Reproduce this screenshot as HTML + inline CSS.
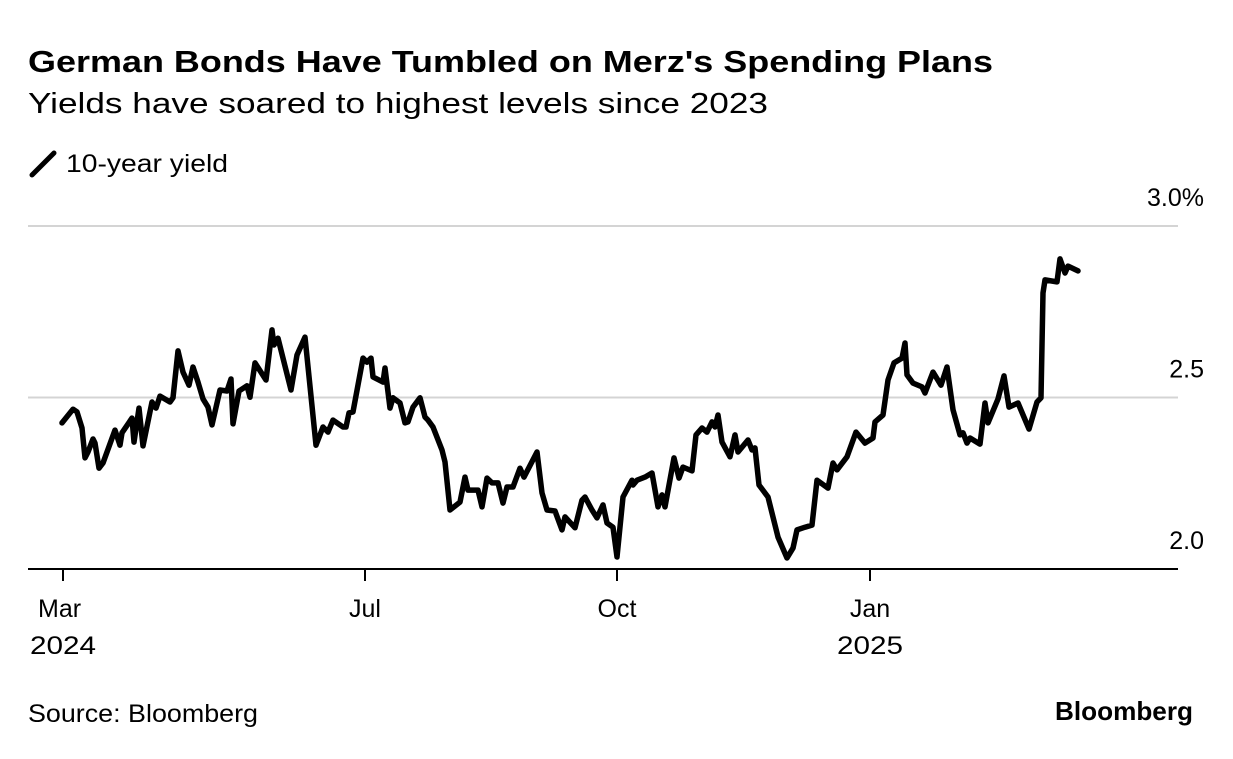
<!DOCTYPE html>
<html><head><meta charset="utf-8">
<style>
body{margin:0;background:#fff;font-family:"Liberation Sans",Arial,sans-serif;color:#000}
svg text{font-family:"Liberation Sans",Arial,sans-serif}
</style></head>
<body>
<svg width="1233" height="754" viewBox="0 0 1233 754">
<text x="28" y="72" font-size="31" font-weight="bold" textLength="965" lengthAdjust="spacingAndGlyphs">German Bonds Have Tumbled on Merz's Spending Plans</text>
<text x="28" y="113" font-size="29" textLength="740" lengthAdjust="spacingAndGlyphs">Yields have soared to highest levels since 2023</text>
<g>
<line x1="32" y1="175" x2="54" y2="153" stroke="#000" stroke-width="5" stroke-linecap="round"/>
<text x="66" y="172" font-size="25" textLength="162" lengthAdjust="spacingAndGlyphs">10-year yield</text>
</g>
<g id="grid"></g>
<g id="xaxis"></g>
<g id="yaxis"></g>
<path id="line" fill="none" stroke="#000" stroke-width="5.5" stroke-linejoin="round" stroke-linecap="round"/>
<text x="28" y="722" font-size="25" textLength="230" lengthAdjust="spacingAndGlyphs">Source: Bloomberg</text>
<text x="1193" y="720" font-size="26" font-weight="bold" text-anchor="end" textLength="138" lengthAdjust="spacingAndGlyphs">Bloomberg</text>
</svg>
<script>
const dayIdx=[0,2.75,3.75,5,5.75,6.5,7.75,8.25,9.25,10.25,13.25,14.5,15,17.5,18,19.25,20.25,22.5,23.5,24.5,27,27.75,29,30.25,31.75,32.75,34,35.25,36.5,37.5,39.5,41.25,42.25,42.75,44.25,46.25,47,48.25,51,52.5,53,54,57.25,58.75,60.75,63.5,65.25,66.5,67.75,70.25,71,71.75,72.75,75.25,76.25,77.25,77.75,80.25,80.75,82,82.75,84.5,85.75,86.5,87.75,89.5,90.75,91.5,92.75,95,95.75,97,99.5,100.75,101.5,104,105,106.25,107.5,109,110.25,111.25,112.75,114.5,115.5,118.75,120,121.25,123.25,125,125.75,128.25,130,130.75,132.5,133.75,135.25,136.25,137.75,138.75,140.25,142.5,142.75,143.75,145.75,147.5,149,150,150.75,153,154.25,155.25,157.5,158.5,160,161.25,162.5,163.25,164,165,167,168.25,169,171.5,172.5,173.25,174.25,176.5,179,181.25,182.75,183.75,185.75,187.5,188.75,191.5,192.75,193.75,196.25,198.5,200.75,202.75,203.25,205.25,206.5,208,210,210.75,211.25,212.75,215,215.75,217.75,219.75,221.25,222.75,224.5,225.25,226.25,227,229.5,230.75,231.5,234,235.5,236.75,239,241.75,243.75,244.75,245.25,245.75,248.75,249.5,250.75,251.5,254];
const yields=[2.426,2.466,2.458,2.411,2.324,2.341,2.379,2.367,2.294,2.309,2.405,2.361,2.397,2.440,2.370,2.469,2.359,2.487,2.469,2.504,2.487,2.499,2.636,2.574,2.536,2.589,2.545,2.496,2.472,2.420,2.522,2.519,2.554,2.423,2.519,2.534,2.501,2.601,2.551,2.697,2.653,2.673,2.522,2.624,2.676,2.361,2.414,2.399,2.434,2.414,2.414,2.455,2.458,2.615,2.603,2.615,2.560,2.545,2.586,2.469,2.499,2.484,2.426,2.429,2.472,2.499,2.443,2.434,2.414,2.347,2.312,2.172,2.195,2.268,2.230,2.230,2.181,2.265,2.251,2.251,2.192,2.239,2.239,2.294,2.268,2.341,2.222,2.172,2.169,2.114,2.152,2.120,2.201,2.210,2.172,2.149,2.187,2.134,2.122,2.035,2.210,2.259,2.245,2.259,2.268,2.280,2.181,2.216,2.181,2.324,2.265,2.297,2.286,2.391,2.411,2.399,2.429,2.414,2.449,2.370,2.327,2.391,2.341,2.376,2.347,2.353,2.245,2.210,2.093,2.032,2.061,2.114,2.122,2.128,2.259,2.236,2.309,2.289,2.327,2.399,2.367,2.382,2.429,2.449,2.551,2.601,2.615,2.659,2.566,2.542,2.531,2.513,2.574,2.536,2.589,2.464,2.391,2.397,2.367,2.382,2.364,2.484,2.426,2.496,2.563,2.472,2.484,2.408,2.487,2.499,2.805,2.843,2.837,2.904,2.863,2.883,2.869];
const yTicks=[2.0,2.5,3.0];
const yTickLabels=["2.0","2.5","3.0%"];
const xTickIdx=[0.25,75.75,138.75,202];
const xTickMonth=["Mar","Jul","Oct","Jan"];
const xTickYear=["2024","","","2025"];

const X=t=>62+t*4;
const Y=v=>569-(v-2)*343;
const NS="http://www.w3.org/2000/svg";
function mk(tag,attrs,parent){const e=document.createElementNS(NS,tag);for(const k in attrs)e.setAttribute(k,attrs[k]);parent.appendChild(e);return e;}
const grid=document.getElementById('grid'),xa=document.getElementById('xaxis'),ya=document.getElementById('yaxis');
yTicks.forEach((v,i)=>{
  if(v>2){const l=mk('line',{x1:28,x2:1178,y1:Y(v),y2:Y(v),stroke:'#d4d4d4','stroke-width':2},grid);
  
  }
  const t=mk('text',{x:1204,y:Y(v)-20,'font-size':25,'text-anchor':'end'},ya);
  t.textContent=yTickLabels[i];
  
  
});
const base=mk('line',{x1:28,x2:1178,y1:569,y2:569,stroke:'#000','stroke-width':2},xa);


xTickIdx.forEach((t,i)=>{
  const x=X(t);
  const tk=mk('line',{x1:x,x2:x,y1:569,y2:581,stroke:'#000','stroke-width':2},xa);
  
  
  const a=mk('text',{x:x,y:617,'font-size':25,'text-anchor':i==0?'start':'middle'},xa);
  if(i==0)a.setAttribute('x',x-25);
  a.textContent=xTickMonth[i];
  
  
  if(xTickYear[i]){const b=mk('text',{x:i==0?x-33:x,y:654,'font-size':25,'text-anchor':i==0?'start':'middle',textLength:66,lengthAdjust:'spacingAndGlyphs'},xa);
  b.textContent=xTickYear[i];
  
  }
});
document.getElementById('line').setAttribute('d',dayIdx.map((t,i)=>(i?'L':'M')+X(t).toFixed(1)+','+Y(yields[i]).toFixed(1)).join(''));
</script>
</body></html>
